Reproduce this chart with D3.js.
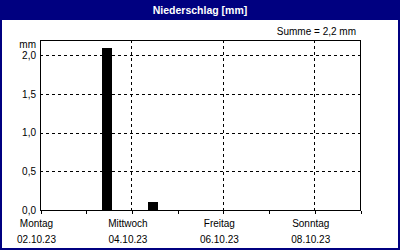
<!DOCTYPE html>
<html>
<head>
<meta charset="utf-8">
<script src="https://cdn.jsdelivr.net/npm/d3@7"></script>
<style>
  body { margin: 0; background: #fff; }
  text { font-family: "Liberation Sans", Arial, sans-serif; font-size: 10px; fill: #000; }
</style>
</head>
<body>
<div id="chart"></div>
<script>
// Daten
const tage = ["2023-10-02", "2023-10-03", "2023-10-04", "2023-10-05", "2023-10-06", "2023-10-07", "2023-10-08"];
const niederschlag = [0, 2.1, 0.1, 0, 0, 0, 0];
const wochentage = ["Montag", "Dienstag", "Mittwoch", "Donnerstag", "Freitag", "Samstag", "Sonntag"];
const yTicks = [0, 0.5, 1.0, 1.5, 2.0];
const titel = "Niederschlag [mm]";
const summeText = "Summe = 2,2 mm";

const W = 400, H = 250;
const margin = { top: 40, right: 40, bottom: 40, left: 40 };

const parse = d3.timeParse("%Y-%m-%d");
const datum = tage.map(parse);
const fmtDatum = d3.timeFormat("%d.%m.%y");
const de = d3.formatLocale({ decimal: ",", thousands: ".", grouping: [3], currency: ["", " €"] });
const fmtY = de.format(".1f");

const svg = d3.select("#chart").append("svg")
  .attr("width", W).attr("height", H);

// Rahmen + Titelleiste
svg.append("rect").attr("x", 1).attr("y", 1).attr("width", W - 2).attr("height", H - 2)
  .attr("fill", "#fff").attr("stroke", "#000080").attr("stroke-width", 2);
svg.append("rect").attr("x", 0).attr("y", 0).attr("width", W).attr("height", 20)
  .attr("fill", "#000080");
svg.append("text").attr("x", W / 2).attr("y", 14).attr("text-anchor", "middle")
  .style("font-weight", "bold").style("font-size", "10.5px").style("fill", "#fff")
  .text(titel);

const x = d3.scaleTime()
  .domain([datum[0], d3.timeDay.offset(datum[datum.length - 1], 1)])
  .range([margin.left, W - margin.right]);
const y = d3.scaleLinear().domain([0, 2.2]).range([H - margin.bottom, margin.top]);

// Gitter
const g = svg.append("g").attr("shape-rendering", "crispEdges");
g.selectAll(".hgrid").data(yTicks.filter(d => d > 0)).enter().append("line")
  .attr("x1", margin.left).attr("x2", W - margin.right)
  .attr("y1", d => Math.round(y(d)) + 0.5).attr("y2", d => Math.round(y(d)) + 0.5)
  .attr("stroke", "#000").attr("stroke-dasharray", "3,3");
const labelTage = datum.filter((d, i) => i % 2 === 0);
g.selectAll(".vgrid").data(labelTage.slice(1)).enter().append("line")
  .attr("x1", d => Math.round(x(d)) + 0.5).attr("x2", d => Math.round(x(d)) + 0.5)
  .attr("y1", margin.top).attr("y2", H - margin.bottom)
  .attr("stroke", "#000").attr("stroke-dasharray", "3,3");

// Balken
svg.append("g").attr("shape-rendering", "crispEdges")
  .selectAll("rect").data(datum.map((d, i) => ({ d: d, v: niederschlag[i] })).filter(e => e.v > 0))
  .enter().append("rect")
  .attr("x", e => Math.round(x(d3.timeHour.offset(e.d, 12)) - 6.5))
  .attr("width", 10)
  .attr("y", e => Math.round(y(e.v)))
  .attr("height", e => Math.round(y(0)) - Math.round(y(e.v)))
  .attr("fill", "#000");

// Plotrahmen
g.append("rect").attr("x", margin.left + 0.5).attr("y", margin.top + 0.5)
  .attr("width", W - margin.left - margin.right).attr("height", H - margin.top - margin.bottom)
  .attr("fill", "none").attr("stroke", "#000");

// x-Achse
const xAxis = svg.append("g")
  .attr("transform", "translate(0," + (H - margin.bottom + 0.5) + ")")
  .call(d3.axisBottom(x).tickValues(datum.concat([x.domain()[1]])).tickSize(3).tickFormat(""));
xAxis.select(".domain").remove();
xAxis.selectAll("line").attr("shape-rendering", "crispEdges")
  .attr("transform", function () { return "translate(0.5,0)"; });

const lab = svg.append("g");
labelTage.forEach(function (d) {
  const i = datum.indexOf(d);
  lab.append("text").attr("x", x(d) - 3.5).attr("y", 227).attr("text-anchor", "middle")
    .text(wochentage[i]);
  lab.append("text").attr("x", x(d) - 3.5).attr("y", 243).attr("text-anchor", "middle")
    .text(fmtDatum(d));
});

// y-Achse
const yAxis = svg.append("g")
  .attr("transform", "translate(" + (margin.left - 4) + ",0)")
  .call(d3.axisLeft(y).tickValues(yTicks).tickSize(0).tickFormat(fmtY).tickPadding(0));
yAxis.select(".domain").remove();
yAxis.selectAll("text").style("font-size", "10px").style("font-family", "Liberation Sans, Arial, sans-serif");

svg.append("text").attr("x", margin.left - 4).attr("y", 48).attr("text-anchor", "end").text("mm");
svg.append("text").attr("x", W - margin.right - 4).attr("y", 35).attr("text-anchor", "end").text(summeText);
</script>
</body>
</html>
